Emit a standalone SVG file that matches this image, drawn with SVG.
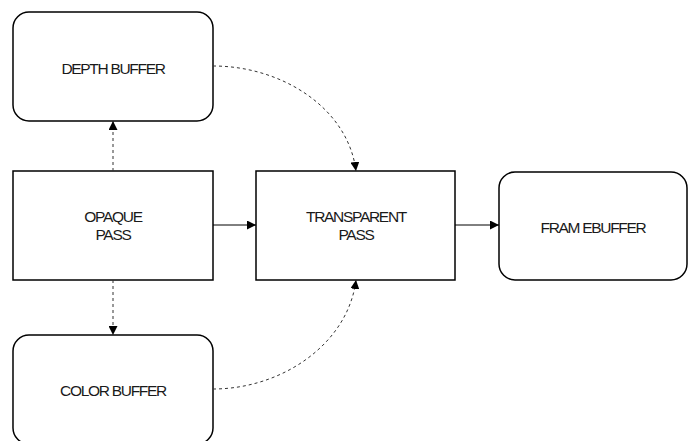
<svg xmlns="http://www.w3.org/2000/svg" width="688" height="441" viewBox="0 0 688 441">
  <style>
    .box { fill: #ffffff; stroke: #000000; stroke-width: 1.5; }
    .lbl { font-family: "Liberation Sans", Arial, sans-serif; font-size: 15.5px; letter-spacing: -1.3px; fill: #1a1a1a; text-anchor: middle; }
    .solid { fill: none; stroke: #000000; stroke-width: 1; }
    .dash { fill: none; stroke: #333333; stroke-width: 1; stroke-dasharray: 3 3; }
  </style>
  <defs>
    <marker id="arrow" viewBox="0 0 10 10" refX="10" refY="5" markerWidth="9" markerHeight="9" markerUnits="userSpaceOnUse" orient="auto">
      <path d="M0,0 L10,5 L0,10 Z" fill="#000000"/>
    </marker>
  </defs>
  <rect width="688" height="441" fill="#ffffff"/>

  <g id="depth-buffer">
    <rect class="box" x="13" y="12" width="200" height="109" rx="16" ry="16"/>
    <text class="lbl" x="113" y="74">DEPTH BUFFER</text>
  </g>

  <g id="opaque-pass">
    <rect class="box" x="13" y="171" width="200" height="109"/>
    <text class="lbl" x="113" y="222">OPAQUE</text>
    <text class="lbl" x="113" y="240">PASS</text>
  </g>

  <g id="color-buffer">
    <rect class="box" x="13" y="335" width="200" height="109" rx="16" ry="16"/>
    <text class="lbl" x="113" y="396">COLOR BUFFER</text>
  </g>

  <g id="transparent-pass">
    <rect class="box" x="256" y="171" width="199" height="109"/>
    <text class="lbl" x="356" y="222">TRANSPARENT</text>
    <text class="lbl" x="356" y="240">PASS</text>
  </g>

  <g id="framebuffer">
    <rect class="box" x="499" y="172" width="188" height="108" rx="16" ry="16"/>
    <text class="lbl" x="593" y="233">FRAM EBUFFER</text>
  </g>

  <g id="connectors">
    <path class="dash" d="M113,171 L113,121" marker-end="url(#arrow)"/>
    <path class="dash" d="M113,280 L113,335" marker-end="url(#arrow)"/>
    <path class="solid" d="M213,225 L256,225" marker-end="url(#arrow)"/>
    <path class="solid" d="M455,225 L499,225" marker-end="url(#arrow)"/>
    <path class="dash" d="M213,66 C282,66 348,108 356,171" marker-end="url(#arrow)"/>
    <path class="dash" d="M213,389 C282,389 348,344 356,280" marker-end="url(#arrow)"/>
  </g>
</svg>
